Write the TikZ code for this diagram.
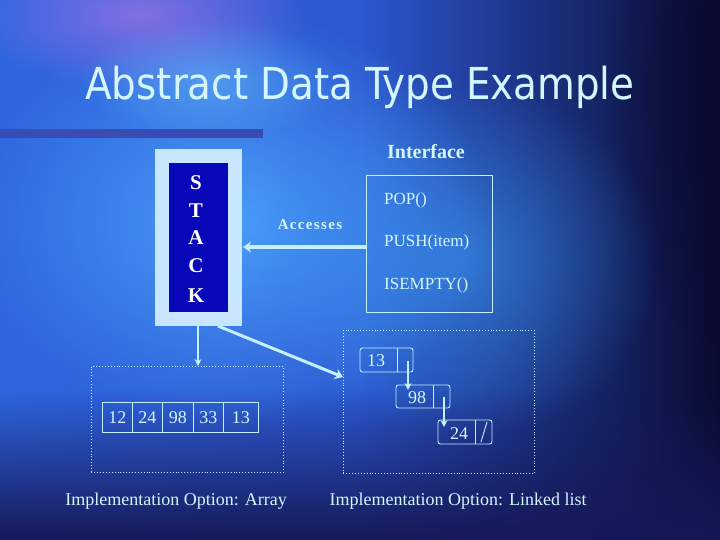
\documentclass[tikz,border=0pt]{standalone}
\usepackage{fontspec}
\setmainfont{Liberation Serif}
\newfontfamily\titlefont{DejaVu Sans Condensed}
\newfontfamily\spacedbold[LetterSpace=9]{Liberation Serif Bold}
\usetikzlibrary{fadings,arrows.meta}
\definecolor{txt}{HTML}{D4F6FF}
\definecolor{ln}{HTML}{C4F0FF}
\definecolor{stackfill}{HTML}{C8E6FF}
\definecolor{stackin}{HTML}{0808B8}
\definecolor{barc}{HTML}{3A4CB4}
\definecolor{bgL}{HTML}{2E66E0}
\definecolor{bgM}{HTML}{2C58D0}
\definecolor{bgR}{HTML}{0A0A30}
\definecolor{bgBot}{HTML}{161858}
\definecolor{glowA}{HTML}{4EA8FF}
\definecolor{glowB}{HTML}{B078E8}
\definecolor{glowC}{HTML}{3C9CF8}
\definecolor{glowD}{HTML}{70C8FF}
\tikzfading[name=fuzzy, inner color=transparent!0, outer color=transparent!100]
\tikzfading[name=fadeup, top color=transparent!100, bottom color=transparent!0]
\tikzset{
  lbl/.style={text=txt, inner sep=0pt},
  cellbox/.style={draw=ln, line width=0.9pt, minimum width=30pt, minimum height=30pt, inner sep=0pt, text=txt, font=\fontsize{18}{18}\selectfont},
  dotbox/.style={draw=ln, dotted, line width=0.9pt},
  llnode/.style={draw=ln, line width=0.9pt, rounded corners=2.5pt},
  thinarrow/.style={draw=ln, line width=2pt, -{Stealth[length=7pt,width=7pt]}},
  thickarrow/.style={draw=ln, line width=4pt, -{Stealth[length=8pt,width=11pt]}},
}
\begin{document}
\begin{tikzpicture}[x=1pt,y=-1pt]
\useasboundingbox (0,0) rectangle (720,540);
% background
\shade[left color=bgL, right color=bgR, middle color=bgM] (0,0) rectangle (720,540);
\fill[glowA, path fading=fuzzy, opacity=0.85] (230,220) ellipse (260 and 210);
\fill[glowB, path fading=fuzzy, opacity=0.65] (140,15) ellipse (170 and 75);
\fill[glowD, path fading=fuzzy, opacity=0.45] (210,80) ellipse (130 and 60);
\fill[glowC, path fading=fuzzy, opacity=0.6] (460,260) ellipse (200 and 180);
\fill[bgBot, path fading=fadeup] (0,390) rectangle (720,540);
\fill[bgR, path fading=fuzzy, opacity=0.85] (740,90) ellipse (140 and 260);
% title
\node[text=txt, font=\titlefont\fontsize{44}{44}\selectfont, inner sep=0pt, xscale=0.98] (title) at (360,87) {Abstract Data Type Example};
% bar
\fill[barc] (0,129) rectangle (263,138);
% stack
\node[fill=stackfill, minimum width=87pt, minimum height=177pt, inner sep=0pt, anchor=north west] (stackout) at (155,149) {};
\node[fill=stackin, minimum width=59pt, minimum height=149pt, inner sep=0pt, anchor=north west] (stackin) at (169,163) {};
\foreach \l/\y in {S/183,T/211,A/238,C/266,K/296}
  \node[lbl, text=white, font=\bfseries\fontsize{21}{21}\selectfont] at (196,\y) {\l};
% interface
\node[lbl, font=\bfseries\fontsize{20}{20}\selectfont] (iflbl) at (426,152) {Interface};
\node[draw=ln, line width=0.9pt, minimum width=126pt, minimum height=137pt, inner sep=0pt, anchor=north west] (ifbox) at (366,175) {};
\node[lbl, anchor=west, font=\fontsize{17}{17}\selectfont] (pop) at (384,200) {POP()};
\node[lbl, anchor=west, font=\fontsize{17}{17}\selectfont] (push) at (384,242) {PUSH(item)};
\node[lbl, anchor=west, font=\fontsize{17}{17}\selectfont] (isempty) at (384,285) {ISEMPTY()};
\node[lbl, font=\spacedbold\fontsize{15}{15}\selectfont] (acc) at (310,225) {Accesses};
\coordinate (ifL) at (366,247);
\coordinate (stR) at (243,247);
\draw[thickarrow] (ifL) -- (stR);
% array box
\node[dotbox, minimum width=192pt, minimum height=106pt, inner sep=0pt, anchor=north west] (arrbox) at (91,366) {};
\coordinate (stB) at (198,326);
\coordinate (arrT) at (198,366);
\draw[thinarrow] (stB) -- (arrT);
\node[cellbox, minimum width=30pt, anchor=north west] (c1) at (102,402) {12};
\node[cellbox, minimum width=30pt, anchor=north west] (c2) at (132,402) {24};
\node[cellbox, minimum width=31pt, anchor=north west] (c3) at (162,402) {98};
\node[cellbox, minimum width=30pt, anchor=north west] (c4) at (193,402) {33};
\node[cellbox, minimum width=35pt, anchor=north west] (c5) at (223,402) {13};
% linked list box
\node[dotbox, minimum width=191pt, minimum height=143pt, inner sep=0pt, anchor=north west] (llbox) at (343,330) {};
\coordinate (stBR) at (218,326);
\coordinate (llL) at (343,377);
\draw[thickarrow, line width=3pt] (stBR) -- (llL);
% node 13
\draw[llnode] (360,348) rectangle (413,372);
\draw[ln, line width=0.9pt] (397,348) -- (397,372);
\node[lbl, font=\fontsize{18}{18}\selectfont] (n13) at (376,361) {13};
% node 98
\draw[llnode] (396,385) rectangle (450,408);
\draw[ln, line width=0.9pt] (433,385) -- (433,408);
\node[lbl, font=\fontsize{18}{18}\selectfont] (n98) at (417,398) {98};
% node 24
\draw[llnode] (438,420) rectangle (492,444);
\draw[ln, line width=0.9pt] (475,420) -- (475,444);
\draw[ln, line width=0.9pt] (481,442) -- (487,422);
\node[lbl, font=\fontsize{18}{18}\selectfont] (n24) at (459,434) {24};
\coordinate (p13) at (408,361);
\coordinate (t98) at (408,390);
\coordinate (p98) at (444,397);
\coordinate (t24) at (444,427);
\draw[thinarrow, line width=1.6pt] (p13) -- (t98);
\draw[thinarrow, line width=1.6pt] (p98) -- (t24);
% captions
\node[lbl, font=\fontsize{18}{18}\selectfont] (cap1) at (176,501) {Implementation Option: Array};
\node[lbl, font=\fontsize{18}{18}\selectfont] (cap2) at (458,501) {Implementation Option: Linked list};
\end{tikzpicture}
\end{document}
